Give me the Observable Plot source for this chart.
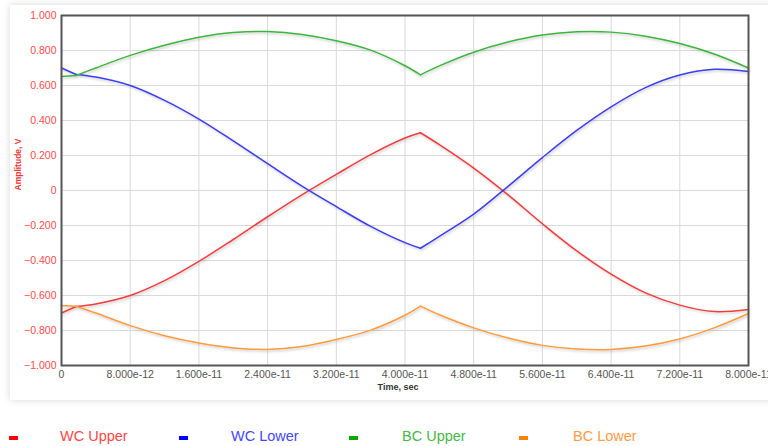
<!DOCTYPE html>
<html>
<head>
<meta charset="utf-8">
<script src="https://cdn.jsdelivr.net/npm/d3@7"></script>
<script src="https://cdn.jsdelivr.net/npm/@observablehq/plot@0.6"></script>
<style>
  body { margin: 0; background: #fff; font-family: Arial, "Liberation Sans", sans-serif; }
  #wrap { position: relative; width: 768px; height: 446px; overflow: hidden; }
  #panel { position: absolute; left: 10px; top: 5px; width: 780px; height: 395px; background: #fff;
           box-shadow: 0 0 7px rgba(0,0,0,0.16); }
  #chart { position: absolute; left: 0; top: 0; }
  .sw { position: absolute; width: 9px; height: 4px; }
  .lab { position: absolute; font-size: 14.5px; line-height: 14px; white-space: nowrap; }
</style>
</head>
<body>
<div id="wrap">
  <div id="panel"></div>
  <div id="chart"></div>
</div>
<script>
// Sample times (seconds)
const time = [0, 1.7e-12, 4e-12, 8e-12, 1.2e-11, 1.6e-11, 2.0e-11, 2.4e-11, 2.8e-11, 3.2e-11,
  3.6e-11, 4.0e-11, 4.18e-11, 4.4e-11, 4.8e-11, 5.2e-11, 5.6e-11, 6.0e-11, 6.4e-11, 6.8e-11,
  7.2e-11, 7.6e-11, 8.0e-11];

// Eye-diagram envelope amplitudes (V)
const wcUpper = [-0.70, -0.663, -0.648, -0.600, -0.515, -0.405, -0.280, -0.150, -0.025, 0.092,
  0.205, 0.300, 0.330, 0.262, 0.128, -0.025, -0.190, -0.345, -0.478, -0.585, -0.655, -0.692, -0.68];
const wcLower = [0.70, 0.663, 0.648, 0.600, 0.515, 0.408, 0.283, 0.153, 0.025, -0.092,
  -0.205, -0.298, -0.330, -0.262, -0.135, 0.024, 0.188, 0.343, 0.478, 0.588, 0.660, 0.693, 0.68];
const bcUpper = [0.651, 0.657, 0.700, 0.772, 0.830, 0.876, 0.903, 0.908, 0.892, 0.856,
  0.802, 0.713, 0.661, 0.712, 0.790, 0.848, 0.888, 0.907, 0.905, 0.882, 0.840, 0.780, 0.700];
const bcLower = [-0.657, -0.661, -0.700, -0.772, -0.830, -0.872, -0.900, -0.908, -0.892, -0.852,
  -0.798, -0.713, -0.661, -0.710, -0.785, -0.843, -0.885, -0.906, -0.908, -0.888, -0.848, -0.785, -0.703];

const seriesNames = ["WC Upper", "WC Lower", "BC Upper", "BC Lower"];
const lineColors = ["#f03c3c", "#3c3cf0", "#3cb43c", "#ff9a3c"];
const swatchColors = ["#ff0000", "#0000ff", "#00aa00", "#ff8000"];
const labelColors = ["#ff4646", "#4646ff", "#46b846", "#ff9a46"];

const xTicks = [0, 8e-12, 1.6e-11, 2.4e-11, 3.2e-11, 4.0e-11, 4.8e-11, 5.6e-11, 6.4e-11, 7.2e-11, 8.0e-11];
const yTicks = [-1, -0.8, -0.6, -0.4, -0.2, 0, 0.2, 0.4, 0.6, 0.8, 1];

// Corners in the traces (bit transitions); each piece is smoothed separately
const breaks = [0, 1, 12, time.length - 1];

const allSeries = [wcUpper, wcLower, bcUpper, bcLower];
const rows = [];
allSeries.forEach((vals, s) => {
  for (let p = 0; p < breaks.length - 1; p++) {
    for (let i = breaks[p]; i <= breaks[p + 1]; i++) {
      rows.push({t: time[i], v: vals[i], name: seriesNames[s], z: seriesNames[s] + p});
    }
  }
});

const fmtX = d => d === 0 ? "0" : d3.format(".3e")(d);
const fmtY = d => d === 0 ? "0" : d3.format(".3f")(d);

const chart = Plot.plot({
  width: 768,
  height: 400,
  marginLeft: 61,
  marginRight: 20,
  marginTop: 15,
  marginBottom: 35,
  x: {domain: [0, 8e-11], axis: null},
  y: {domain: [-1, 1], axis: null},
  color: {domain: seriesNames, range: lineColors},
  style: {background: "transparent", fontFamily: "Arial, 'Liberation Sans', sans-serif", overflow: "hidden"},
  marks: [
    Plot.ruleX(xTicks, {stroke: "#d9d9d9", strokeWidth: 1}),
    Plot.ruleY(yTicks, {stroke: "#d9d9d9", strokeWidth: 1}),
    Plot.line(rows, {x: "t", y: "v", z: "z", stroke: "name", curve: "catmull-rom", strokeWidth: 1.5}),
    Plot.frame({stroke: "#555", strokeWidth: 2}),
    Plot.text(yTicks, {y: d => d, frameAnchor: "left", dx: -5, textAnchor: "end", text: fmtY,
      fill: "#ff4b4b", fontSize: 10.5}),
    Plot.text(xTicks, {x: d => d, frameAnchor: "bottom", dy: 12, text: fmtX, fill: "#555", fontSize: 10.5}),
    Plot.text(["Time, sec"], {frameAnchor: "bottom", dy: 24, dx: -7, text: d => d, fill: "#333",
      fontWeight: "bold", fontSize: 9}),
    Plot.text(["Amplitude, V"], {frameAnchor: "left", dx: -43, rotate: -90, text: d => d, fill: "#ee3333",
      fontWeight: "bold", fontSize: 8.5})
  ]
});

// Soft shadow under the traces
const ns = "http://www.w3.org/2000/svg";
const defs = document.createElementNS(ns, "defs");
defs.innerHTML = '<filter id="traceShadow" x="-5%" y="-5%" width="110%" height="120%">' +
  '<feDropShadow dx="1" dy="1.5" stdDeviation="0.8" flood-color="#000" flood-opacity="0.22"/></filter>';
chart.insertBefore(defs, chart.firstChild);
chart.querySelectorAll('g[aria-label="line"]').forEach(g => g.setAttribute("filter", "url(#traceShadow)"));

document.getElementById("chart").appendChild(chart);

// Legend row below the plot
const wrap = document.getElementById("wrap");
seriesNames.forEach((name, i) => {
  const sw = document.createElement("div");
  sw.className = "sw";
  sw.style.left = (9 + 170 * i) + "px";
  sw.style.top = "436px";
  sw.style.background = swatchColors[i];
  wrap.appendChild(sw);
  const lab = document.createElement("div");
  lab.className = "lab";
  lab.style.left = (60 + 171 * i) + "px";
  lab.style.top = "429px";
  lab.style.color = labelColors[i];
  lab.textContent = name;
  wrap.appendChild(lab);
});
</script>
</body>
</html>
